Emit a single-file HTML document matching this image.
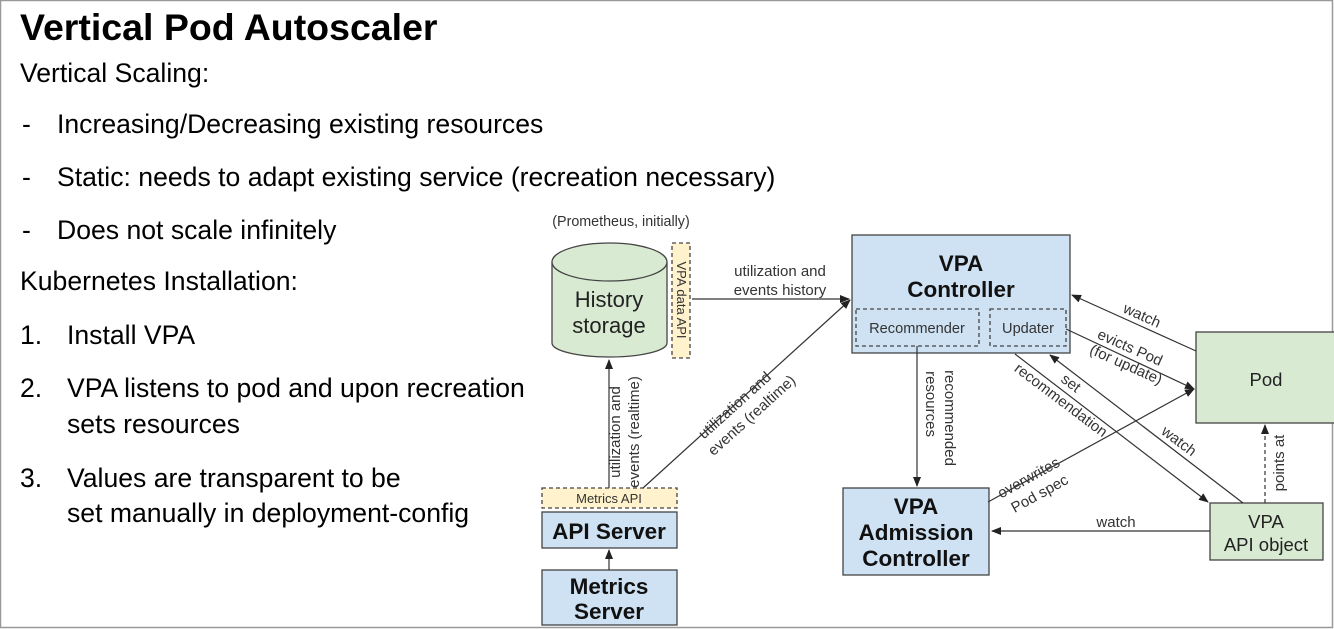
<!DOCTYPE html>
<html><head><meta charset="utf-8"><style>
html,body{margin:0;padding:0;background:#fff}
svg{display:block}
text{font-family:"Liberation Sans",Arial,sans-serif}
</style></head><body>
<svg width="1334" height="629" viewBox="0 0 1334 629" xmlns="http://www.w3.org/2000/svg">
<defs>
<marker id="a" markerWidth="10" markerHeight="8" refX="9" refY="4" orient="auto" markerUnits="userSpaceOnUse">
<path d="M0,0 L10,4 L0,8 z" fill="#222"/></marker>
</defs>
<rect x="0.5" y="0.5" width="1332" height="627" fill="#fff" stroke="#999" stroke-width="1.5"/>
<text x="20" y="40" font-size="37.5" font-weight="bold" fill="#000">Vertical Pod Autoscaler</text>
<g font-size="26.6" fill="#000">
<text x="20" y="82">Vertical Scaling:</text>
<text x="22" y="133">-</text><text x="57" y="133">Increasing/Decreasing existing resources</text>
<text x="22" y="186">-</text><text x="57" y="186">Static: needs to adapt existing service (recreation necessary)</text>
<text x="22" y="239">-</text><text x="57" y="239">Does not scale infinitely</text>
<text x="20" y="290">Kubernetes Installation:</text>
<text x="20" y="344">1.</text><text x="67" y="344">Install VPA</text>
<text x="20" y="397">2.</text><text x="67" y="397">VPA listens to pod and upon recreation</text>
<text x="67" y="433">sets resources</text>
<text x="20" y="487">3.</text><text x="67" y="487">Values are transparent to be</text>
<text x="67" y="522">set manually in deployment-config</text>
</g>
<g stroke="#444" stroke-width="1.3">
<text x="621" y="226" font-size="14.3" fill="#333" stroke="none" text-anchor="middle">(Prometheus, initially)</text>
<path d="M552,262 L552,343 A57.5,14 0 0 0 667,343 L667,262" fill="#d9ead3"/>
<ellipse cx="609.5" cy="262" rx="57.5" ry="19" fill="#d9ead3"/>
<text x="609" y="307" font-size="22" fill="#222" stroke="none" text-anchor="middle">History</text>
<text x="609" y="333" font-size="22" fill="#222" stroke="none" text-anchor="middle">storage</text>
<rect x="672" y="243" width="18" height="115" fill="#fff2cc" stroke-dasharray="4,3"/>
<text transform="translate(677,300) rotate(90)" font-size="13" fill="#333" stroke="none" text-anchor="middle">VPA data API</text>
<rect x="542" y="488" width="135" height="20" fill="#fff2cc" stroke-dasharray="4,3"/>
<text x="609" y="503" font-size="13" fill="#333" stroke="none" text-anchor="middle">Metrics API</text>
<rect x="542" y="512" width="135" height="36" fill="#cfe2f3"/>
<text x="609" y="539" font-size="22.5" font-weight="bold" fill="#111" stroke="none" text-anchor="middle">API Server</text>
<rect x="542" y="570" width="135" height="55" fill="#cfe2f3"/>
<text x="609" y="594" font-size="22.5" font-weight="bold" fill="#111" stroke="none" text-anchor="middle">Metrics</text>
<text x="609" y="619" font-size="22.5" font-weight="bold" fill="#111" stroke="none" text-anchor="middle">Server</text>
<rect x="852" y="235" width="218" height="118" fill="#cfe2f3"/>
<text x="961" y="271" font-size="22.5" font-weight="bold" fill="#111" stroke="none" text-anchor="middle">VPA</text>
<text x="961" y="297" font-size="22.5" font-weight="bold" fill="#111" stroke="none" text-anchor="middle">Controller</text>
<rect x="856" y="309" width="123" height="37" fill="none" stroke-dasharray="4,3"/>
<text x="917" y="333" font-size="14.6" fill="#333" stroke="none" text-anchor="middle">Recommender</text>
<rect x="990" y="309" width="76" height="37" fill="none" stroke-dasharray="4,3"/>
<text x="1028" y="333" font-size="14.6" fill="#333" stroke="none" text-anchor="middle">Updater</text>
<rect x="843" y="488" width="146" height="87" fill="#cfe2f3"/>
<text x="916" y="514" font-size="22.5" font-weight="bold" fill="#111" stroke="none" text-anchor="middle">VPA</text>
<text x="916" y="540" font-size="22.5" font-weight="bold" fill="#111" stroke="none" text-anchor="middle">Admission</text>
<text x="916" y="566" font-size="22.5" font-weight="bold" fill="#111" stroke="none" text-anchor="middle">Controller</text>
<rect x="1196" y="332" width="145" height="91" fill="#d9ead3"/>
<text x="1266" y="386" font-size="18.5" fill="#222" stroke="none" text-anchor="middle">Pod</text>
<rect x="1210" y="503" width="113" height="57" fill="#d9ead3"/>
<text x="1266" y="528" font-size="18.5" fill="#222" stroke="none" text-anchor="middle">VPA</text>
<text x="1266" y="551" font-size="18.5" fill="#222" stroke="none" text-anchor="middle">API object</text>
<g fill="none" stroke="#333" stroke-width="1.2">
<line x1="692" y1="299" x2="849" y2="299" marker-end="url(#a)"/>
<line x1="609" y1="488" x2="609" y2="360" marker-end="url(#a)"/>
<line x1="643" y1="488" x2="850" y2="300" marker-end="url(#a)"/>
<line x1="609" y1="570" x2="609" y2="550" marker-end="url(#a)"/>
<line x1="917" y1="346" x2="917" y2="486" marker-end="url(#a)"/>
<line x1="1196" y1="351" x2="1072" y2="295" marker-end="url(#a)"/>
<line x1="1066" y1="329" x2="1194" y2="389" marker-end="url(#a)"/>
<line x1="1015" y1="354" x2="1208" y2="502" marker-end="url(#a)"/>
<line x1="1243" y1="503" x2="1050" y2="355" marker-end="url(#a)"/>
<line x1="988" y1="502" x2="1194" y2="389" marker-end="url(#a)"/>
<line x1="1210" y1="531" x2="992" y2="531" marker-end="url(#a)"/>
<line x1="1265" y1="503" x2="1265" y2="425" stroke-dasharray="4,3" marker-end="url(#a)"/>
</g>
</g>
<g font-size="15" fill="#333">
<text x="780" y="276" text-anchor="middle">utilization and</text>
<text x="780" y="295" text-anchor="middle">events history</text>
<text transform="translate(620,432) rotate(-90)" text-anchor="middle">utilization and</text>
<text transform="translate(639,432) rotate(-90)" text-anchor="middle">events (realtime)</text>
<text transform="translate(738,409) rotate(-42)" text-anchor="middle">utilization and</text>
<text transform="translate(755,419) rotate(-42)" text-anchor="middle">events (realtime)</text>
<text transform="translate(926,404) rotate(90)" text-anchor="middle">resources</text>
<text transform="translate(945,418) rotate(90)" text-anchor="middle">recommended</text>
<text transform="translate(1140,320) rotate(24)" text-anchor="middle">watch</text>
<text transform="translate(1128,352) rotate(24)" text-anchor="middle">evicts Pod</text>
<text transform="translate(1124,369) rotate(24)" text-anchor="middle">(for update)</text>
<text transform="translate(1068,387) rotate(37)" text-anchor="middle">set</text>
<text transform="translate(1058,404) rotate(37)" text-anchor="middle">recommendation</text>
<text transform="translate(1176,445) rotate(37)" text-anchor="middle">watch</text>
<text transform="translate(1031,482) rotate(-29)" text-anchor="middle">overwrites</text>
<text transform="translate(1042,498) rotate(-29)" text-anchor="middle">Pod spec</text>
<text x="1116" y="527" text-anchor="middle">watch</text>
<text transform="translate(1284,463) rotate(-90)" text-anchor="middle">points at</text>
</g>
</svg>
</body></html>
